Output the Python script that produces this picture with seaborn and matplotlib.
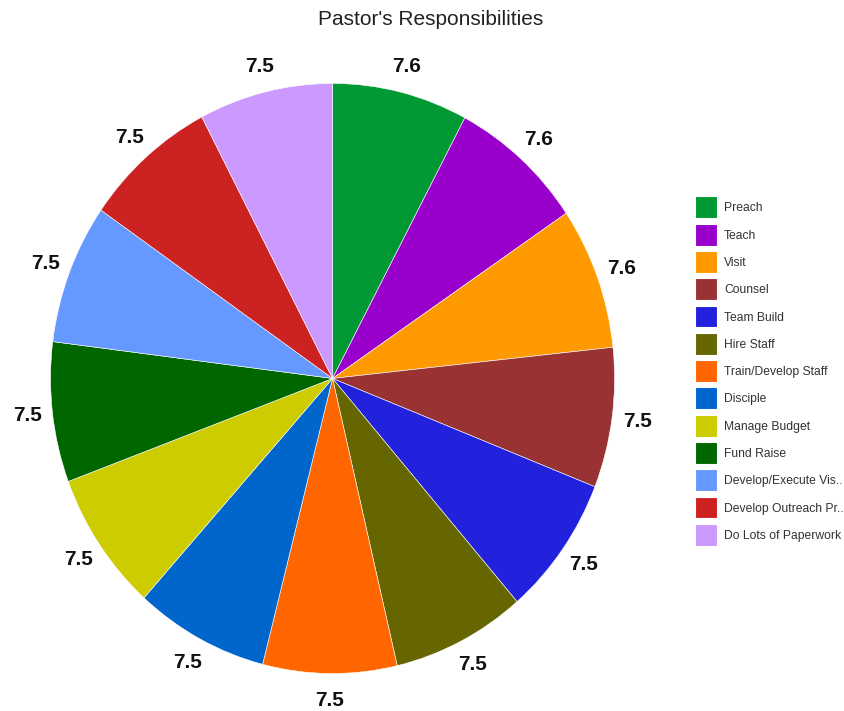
import matplotlib
matplotlib.use("Agg")
import matplotlib.pyplot as plt
import seaborn as sns
from matplotlib.patches import Patch, Rectangle
from matplotlib.legend_handler import HandlerPatch

categories = ["Preach", "Teach", "Visit", "Counsel", "Team Build", "Hire Staff",
              "Train/Develop Staff", "Disciple", "Manage Budget", "Fund Raise",
              "Develop/Execute Vis..", "Develop Outreach Pr..", "Do Lots of Paperwork"]
values = [7.6, 7.6, 7.6, 7.5, 7.5, 7.5, 7.5, 7.5, 7.5, 7.5, 7.5, 7.5, 7.5]
colors_hex = ["#009933", "#9900cc", "#ff9900", "#993333", "#2222dd", "#666600",
              "#ff6600", "#0066cc", "#cccc00", "#006600", "#6699ff", "#cc2222", "#cc99ff"]

sns.set_style("white")
plt.rcParams['font.family'] = ['Liberation Sans', 'DejaVu Sans']
palette = sns.color_palette(colors_hex)

fig = plt.figure(figsize=(8.45, 7.11), dpi=100)
ax = fig.add_axes([0.0598, 0.0527, 0.6675, 0.830])
wedges, texts = ax.pie(values, colors=palette, startangle=90, counterclock=False,
                       labels=[f"{v:.1f}" for v in values], labeldistance=1.09,
                       radius=1.0, wedgeprops=dict(linewidth=0.4, edgecolor="white"),
                       textprops=dict(fontsize=15, fontweight="bold", color="#111111"))
for t in texts:
    t.set_ha("center")
    t.set_va("center")
ax.set_xlim(-1, 1)
ax.set_ylim(-1, 1)
ax.set_aspect("auto")
ax.axis("off")

fig.text(0.510, 0.973, "Pastor's Responsibilities", ha="center", va="center", fontsize=15, color="#222222")

BOX = 15.8  # points


def square_patch(legend, orig_handle, xdescent, ydescent, width, height, fontsize):
    cy = height / 2 - ydescent
    return Rectangle((-xdescent, cy - BOX / 2), BOX, BOX)


handles = [Patch(facecolor=c, edgecolor="white", linewidth=0.8) for c in palette]
leg = fig.legend(handles, categories, loc="upper left", bbox_to_anchor=(0.8225, 0.716),
                 frameon=False, fontsize=8.7, handlelength=1.82, handleheight=1.0,
                 labelspacing=1.22, handletextpad=0.58, borderaxespad=0, borderpad=0,
                 handler_map={Patch: HandlerPatch(patch_func=square_patch)})
for t in leg.get_texts():
    t.set_color("#333333")

fig.savefig("out.png", dpi=100)
